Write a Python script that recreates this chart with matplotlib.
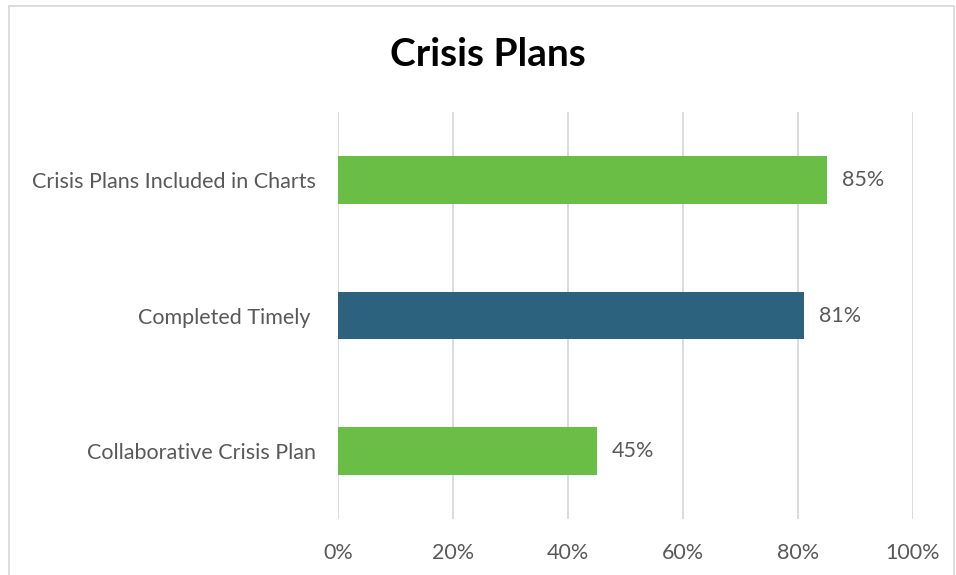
import matplotlib.pyplot as plt
from matplotlib.patches import Rectangle
from matplotlib.ticker import PercentFormatter

categories = ["Crisis Plans Included in Charts", "Completed Timely ", "Collaborative Crisis Plan"]
values = [85, 81, 45]
colors = ["#6BBE45", "#2D627F", "#6BBE45"]
ticks = [0, 20, 40, 60, 80, 100]

plt.rcParams["font.family"] = ["Lato", "DejaVu Sans"]
text_color = "#595959"

fig = plt.figure(figsize=(9.56, 5.75), dpi=100)
ax = fig.add_axes([338 / 956, 1 - 519 / 575, (913 - 338) / 956, (519 - 112) / 575])

pos = list(range(len(categories)))[::-1]
ax.barh(pos, values, height=0.35, color=colors, zorder=3)
for p, v in zip(pos, values):
    ax.annotate(f"{v}%", (v, p), xytext=(11, 0), textcoords="offset points",
                va="center", ha="left", fontsize=15.5, color=text_color)

ax.set_xlim(0, 100)
ax.set_ylim(-0.5, 2.5)
ax.set_xticks(ticks)
ax.xaxis.set_major_formatter(PercentFormatter(decimals=0))
ax.set_yticks(pos)
ax.set_yticklabels(categories)
ax.tick_params(axis="both", length=0, labelsize=15.5, colors=text_color)
ax.tick_params(axis="x", pad=17)
ax.tick_params(axis="y", pad=16)
ax.grid(axis="x", color="#D9D9D9", linewidth=1.3, zorder=0)
for s in ax.spines.values():
    s.set_visible(False)

fig.text(488 / 956, 1 - 55 / 575, "Crisis Plans", ha="center", va="center",
         fontsize=28, fontweight="bold", color="black")

fig.patches.append(Rectangle((9 / 956, -0.01), (954 - 9) / 956, 1 - 6 / 575 + 0.01,
                             transform=fig.transFigure, fill=False,
                             edgecolor="#D9D9D9", linewidth=1.3))

fig.savefig("out.png", dpi=100)
